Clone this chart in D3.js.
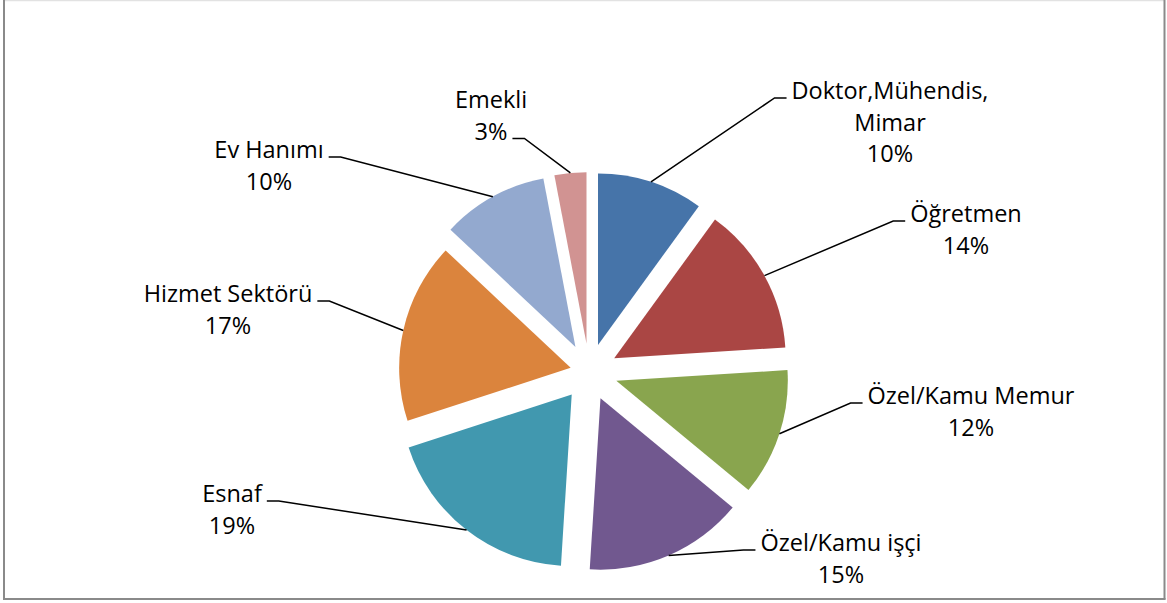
<!DOCTYPE html>
<html>
<head>
<meta charset="utf-8">
<script src="https://cdn.jsdelivr.net/npm/d3@7"></script>
<style>
  html, body { margin: 0; padding: 0; background: #ffffff; }
  svg { display: block; }
</style>
</head>
<body>
<svg id="chart" width="1167" height="603"></svg>
<script>
// Occupation groups and their shares (%)
const categories = ["Doktor,Mühendis, Mimar", "Öğretmen", "Özel/Kamu Memur", "Özel/Kamu işçi",
                    "Esnaf", "Hizmet Sektörü", "Ev Hanımı", "Emekli"];
const shares = [10, 14, 12, 15, 19, 17, 10, 3];
const colors = ["#4674A9", "#AA4644", "#89A54E", "#71588F", "#4198AF", "#DB843D", "#93A9CF", "#D19392"];

// How far each slice is pulled out from the centre (px)
const explode = [28.5, 28.5, 28.5, 28.5, 28.5, 19, 28.5, 28.5];

// Label blocks: centre x, first baseline y, which line the leader meets, and on which side
const labelLayout = [
  { x: 890, y: 99,  join: 0, side: "left"  },
  { x: 966, y: 222, join: 0, side: "left"  },
  { x: 971, y: 404, join: 0, side: "left"  },
  { x: 841, y: 551, join: 0, side: "left"  },
  { x: 232, y: 502, join: 0, side: "right" },
  { x: 228, y: 302, join: 0, side: "right" },
  { x: 269, y: 158, join: 0, side: "right" },
  { x: 491, y: 108, join: 1, side: "right" }
];

const cx = 589.2, cy = 372, R = 171.5;
const fontSize = 23.5, lineGap = 31.5;

const svg = d3.select("#chart");

// frame
svg.append("line").attr("x1", 4).attr("x2", 1164.5).attr("y1", 0.5).attr("y2", 0.5)
  .attr("stroke", "#e2e2e2").attr("stroke-width", 1.5);
svg.append("line").attr("x1", 4).attr("x2", 4).attr("y1", 0).attr("y2", 599.5)
  .attr("stroke", "#8a8a8a").attr("stroke-width", 2);
svg.append("line").attr("x1", 1164.5).attr("x2", 1164.5).attr("y1", 0).attr("y2", 599.5)
  .attr("stroke", "#8a8a8a").attr("stroke-width", 2);
svg.append("line").attr("x1", 3).attr("x2", 1165.5).attr("y1", 599).attr("y2", 599)
  .attr("stroke", "#8a8a8a").attr("stroke-width", 2);

const data = categories.map((c, i) => ({ name: c, value: shares[i], color: colors[i], off: explode[i], lab: labelLayout[i] }));

const pie = d3.pie().sort(null).value(d => d.value).startAngle(0).endAngle(2 * Math.PI);
const arc = d3.arc().innerRadius(0).outerRadius(R);
const arcs = pie(data);

const g = svg.append("g").attr("transform", `translate(${cx},${cy})`);

arcs.forEach(a => {
  const mid = (a.startAngle + a.endAngle) / 2;
  a.mid = mid;
  a.dx = a.data.off * Math.sin(mid);
  a.dy = -a.data.off * Math.cos(mid);
});

g.selectAll("path.slice")
  .data(arcs)
  .join("path")
  .attr("class", "slice")
  .attr("d", arc)
  .attr("fill", d => d.data.color)
  .attr("transform", d => `translate(${d.dx},${d.dy})`);

// labels with leader lines
const labels = svg.append("g")
  .attr("font-family", "'Open Sans', 'Noto Sans', sans-serif")
  .attr("font-size", fontSize)
  .attr("fill", "#000");

arcs.forEach(a => {
  const L = a.data.lab;
  const name = a.data.name;
  const nameLines = name.length > 18
    ? [name.slice(0, name.lastIndexOf(" ")), name.slice(name.lastIndexOf(" ") + 1)]
    : [name];
  const lines = nameLines.concat([a.data.value + "%"]);

  const t = labels.append("text").attr("text-anchor", "middle");
  const spans = lines.map((s, k) =>
    t.append("tspan").attr("x", L.x).attr("y", L.y + k * lineGap).text(s));

  const w = spans[L.join].node().getComputedTextLength();
  const ly = L.y + L.join * lineGap - 1;
  let near, elbow;
  if (L.side === "left") {
    near = L.x - w / 2 - 5;
    elbow = near - 12;
  } else {
    near = L.x + w / 2 + 5;
    elbow = near + 12;
  }
  const px = cx + a.dx + R * Math.sin(a.mid);
  const py = cy + a.dy - R * Math.cos(a.mid);

  svg.append("path")
    .attr("d", d3.line()([[px, py], [elbow, ly], [near, ly]]))
    .attr("fill", "none")
    .attr("stroke", "#000")
    .attr("stroke-width", 1.5);
});
</script>
</body>
</html>
